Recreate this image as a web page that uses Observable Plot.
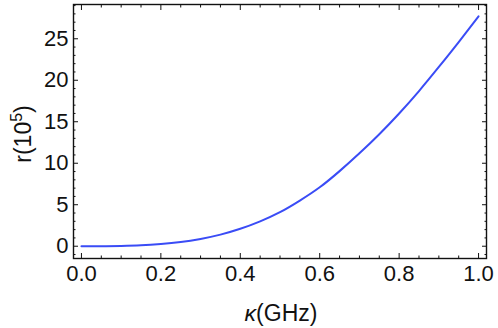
<!DOCTYPE html>
<html>
<head>
<meta charset="utf-8">
<script src="https://cdn.jsdelivr.net/npm/d3@7"></script>
<script src="https://cdn.jsdelivr.net/npm/@observablehq/plot@0.6"></script>
<style>
  html, body { margin: 0; padding: 0; background: #fff; }
  #chart { width: 498px; height: 328px; }
</style>
</head>
<body>
<div id="chart"></div>
<script>
const kappa = [0, 0.05, 0.1, 0.15, 0.2, 0.25, 0.3, 0.35, 0.4, 0.45, 0.5, 0.55, 0.6, 0.65, 0.7, 0.75, 0.8, 0.85, 0.9, 0.95, 1.0];
const rValues = [0, 0.005, 0.04, 0.11, 0.26, 0.5, 0.88, 1.4, 2.1, 3.0, 4.1, 5.5, 7.1, 9.05, 11.2, 13.5, 16.0, 18.7, 21.6, 24.6, 27.7];
const xMajor = [0, 0.2, 0.4, 0.6, 0.8, 1.0];
const xMinor = [0.05, 0.1, 0.15, 0.25, 0.3, 0.35, 0.45, 0.5, 0.55, 0.65, 0.7, 0.75, 0.85, 0.9, 0.95];
const yMajor = [0, 5, 10, 15, 20, 25];
const yMinor = [-1, 1, 2, 3, 4, 6, 7, 8, 9, 11, 12, 13, 14, 16, 17, 18, 19, 21, 22, 23, 24, 26, 27, 28, 29];

const data = kappa.map((k, i) => ({k, r: rValues[i]}));
const font = "'Liberation Sans', Arial, sans-serif";
const ink = "#111";

const inward = (anchor, ticks, size) => (anchor === "bottom" || anchor === "top")
  ? Plot.axisX(ticks, {anchor, tickSize: -size, tickFormat: () => "", stroke: ink, strokeWidth: 1, label: null})
  : Plot.axisY(ticks, {anchor, tickSize: -size, tickFormat: () => "", stroke: ink, strokeWidth: 1, label: null});

const chart = Plot.plot({
  width: 498,
  height: 328,
  marginLeft: 73,
  marginRight: 12,
  marginTop: 4,
  marginBottom: 70,
  style: {fontFamily: font, fontSize: "22px", color: ink, background: "#fff"},
  x: {domain: [-0.02, 1.02]},
  y: {domain: [-1.48, 29.13]},
  marks: [
    Plot.axisX(xMajor, {anchor: "bottom", tickSize: 0, tickPadding: 7, tickFormat: d3.format(".1f"), label: null, fontSize: 22}),
    Plot.axisY(yMajor, {anchor: "left", tickSize: 0, tickPadding: 5, tickFormat: d3.format("d"), label: null, fontSize: 22}),
    inward("bottom", xMajor, 5), inward("bottom", xMinor, 2.5),
    inward("top", xMajor, 5), inward("top", xMinor, 2.5),
    inward("left", yMajor, 5), inward("left", yMinor, 2.5),
    inward("right", yMajor, 5), inward("right", yMinor, 2.5),
    Plot.line(data, {x: "k", y: "r", curve: "natural", stroke: "#3a4cf6", strokeWidth: 2}),
    Plot.frame({stroke: ink, strokeWidth: 1.4})
  ]
});
document.getElementById("chart").appendChild(chart);

const svg = d3.select(chart);
const xl = svg.append("text")
  .attr("x", 281).attr("y", 321)
  .attr("text-anchor", "middle")
  .attr("font-family", font).attr("font-size", 23).attr("fill", ink);
xl.append("tspan").attr("font-style", "italic").text("κ");
xl.append("tspan").text("(GHz)");

const yl = svg.append("text")
  .attr("transform", "translate(31,134) rotate(-90)")
  .attr("text-anchor", "middle")
  .attr("font-family", font).attr("font-size", 23).attr("fill", ink);
yl.append("tspan").text("r(10");
yl.append("tspan").attr("font-size", 16).attr("dy", -9).text("5");
yl.append("tspan").attr("dy", 9).text(")");
</script>
</body>
</html>
